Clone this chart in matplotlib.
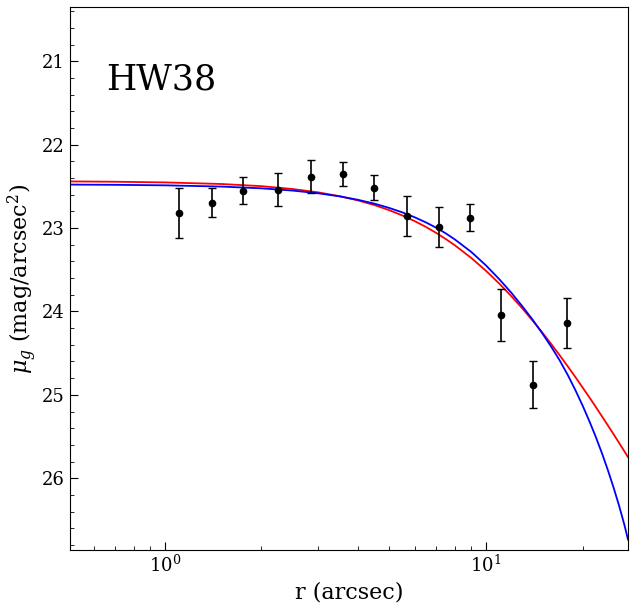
import numpy as np
import matplotlib
matplotlib.use('Agg')
import matplotlib.pyplot as plt

plt.rcParams['font.family'] = 'DejaVu Serif'
plt.rcParams['mathtext.fontset'] = 'dejavuserif'

# -----------------------------------------------------------------------------
# measured profile (HW38, g band)

r_obs = [1.108, 1.404, 1.754, 2.249, 2.856, 3.593, 4.487, 5.686, 7.152, 8.935, 11.16, 14.04, 17.84]
mu_obs = [22.816, 22.696, 22.552, 22.540, 22.384, 22.348, 22.516, 22.861, 22.984, 22.876, 24.041, 24.881, 24.137]
mu_err = [0.30, 0.174, 0.162, 0.198, 0.198, 0.144, 0.152, 0.24, 0.24, 0.162, 0.312, 0.282, 0.30]

# fitted model curves
r_mod = [0.506, 0.7, 1.0, 1.5, 2.0, 2.5, 3.0, 3.5, 4.0, 4.5, 5.0, 5.5, 6.0, 6.5, 7.0, 7.5, 8.0,
         9.0, 10, 11, 12, 13, 14, 15, 16, 17, 18, 19, 20, 21, 22, 23, 24, 25, 26, 27, 27.7]
mu_red = [22.441, 22.445, 22.453, 22.472, 22.498, 22.532, 22.572, 22.618, 22.669, 22.725, 22.786,
          22.850, 22.917, 22.986, 23.058, 23.132, 23.206, 23.358, 23.512, 23.665, 23.817, 23.966,
          24.113, 24.255, 24.394, 24.529, 24.660, 24.787, 24.911, 25.030, 25.146, 25.259, 25.368,
          25.474, 25.577, 25.677, 25.746]
mu_blue = [22.479, 22.482, 22.488, 22.503, 22.524, 22.551, 22.583, 22.620, 22.662, 22.708, 22.759,
           22.813, 22.871, 22.932, 22.996, 23.064, 23.136, 23.286, 23.447, 23.612, 23.776, 23.940,
           24.102, 24.265, 24.427, 24.591, 24.764, 24.944, 25.127, 25.315, 25.506, 25.703, 25.906,
           26.115, 26.332, 26.559, 26.735]

# -----------------------------------------------------------------------------

fig = plt.figure(figsize=(6.34, 6.08), dpi=100)
ax = fig.add_axes([0.110, 0.0954, 0.8805, 0.8931])

ax.plot(r_mod, mu_red, color='red', lw=1.3)
ax.plot(r_mod, mu_blue, color='blue', lw=1.3)
ax.errorbar(r_obs, mu_obs, yerr=mu_err, fmt='o', color='black', ms=4.5,
            ecolor='black', elinewidth=1.2, capsize=3, capthick=1.0)

ax.set_xscale('log')
ax.set_xlim(0.506, 27.7)
ax.set_ylim(26.86, 20.35)
ax.set_yticks([21, 22, 23, 24, 25, 26])
ax.set_yticks(np.arange(20.4, 26.9, 0.2), minor=True)

ax.tick_params(which='both', direction='in', labelsize=13)
ax.tick_params(which='major', length=6)
ax.tick_params(which='minor', length=3)

ax.set_xlabel('r (arcsec)', fontsize=16)
ax.set_ylabel(r'$\mu_g$ (mag/arcsec$^2$)', fontsize=16, labelpad=2)

ax.text(0.066, 0.867, 'HW38', transform=ax.transAxes, fontsize=25,
        va='center', ha='left')

fig.savefig('out.png', dpi=100)
